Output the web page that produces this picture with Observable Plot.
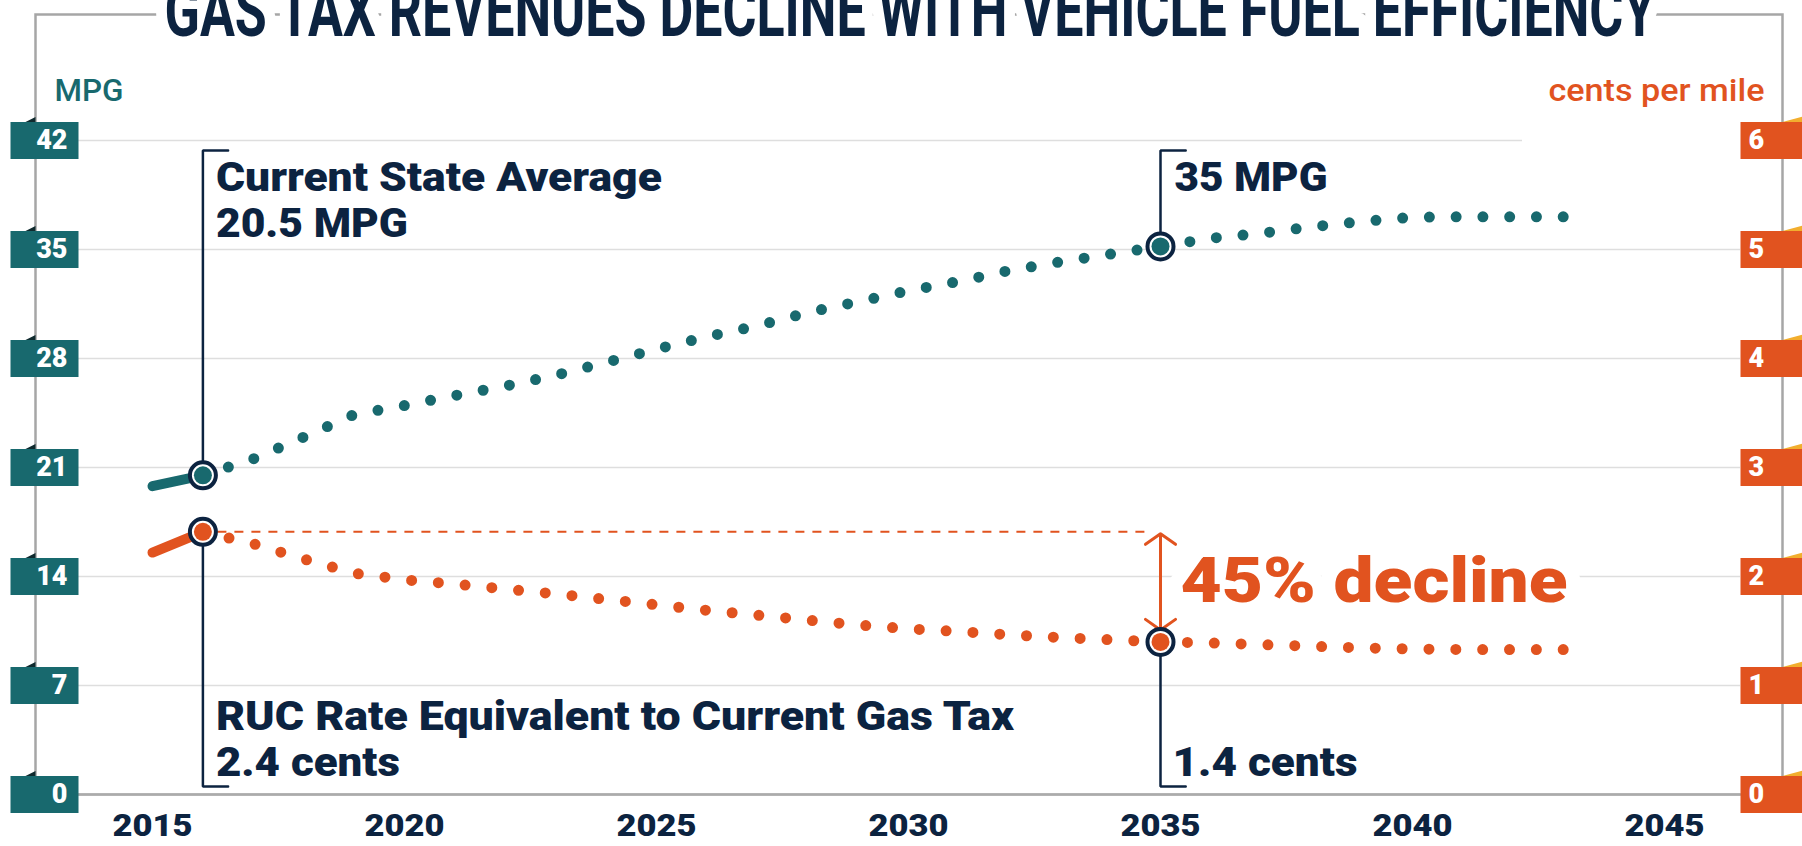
<!DOCTYPE html>
<html>
<head>
<meta charset="utf-8">
<script src="https://cdn.jsdelivr.net/npm/d3@7"></script>
<script src="https://cdn.jsdelivr.net/npm/@observablehq/plot@0.6"></script>
<style>
  html, body { margin: 0; padding: 0; background: #fff; overflow: hidden; }
  #chart svg { display: block; }
</style>
</head>
<body>
<div id="chart"></div>
<script>
// ---------- data ----------
const years = [2015, 2016, 2017, 2018, 2019, 2020, 2021, 2022, 2023, 2024, 2025, 2026, 2027, 2028, 2029,
               2030, 2031, 2032, 2033, 2034, 2035, 2036, 2037, 2038, 2039, 2040, 2041, 2042, 2043];
const mpg = [19.8, 20.5, 21.55, 22.95, 24.4, 24.98, 25.62, 26.23, 26.93, 27.75, 28.6, 29.4, 30.1, 30.95, 31.65,
             32.35, 32.95, 33.65, 34.2, 34.7, 35.2, 35.72, 36.05, 36.45, 36.8, 37.07, 37.1, 37.1, 37.1];
const centsPerMile = [2.22, 2.41, 2.30, 2.16, 2.03, 1.97, 1.93, 1.885, 1.84, 1.79, 1.74, 1.69, 1.645, 1.60, 1.555,
                      1.52, 1.495, 1.465, 1.44, 1.42, 1.40, 1.39, 1.375, 1.36, 1.345, 1.335, 1.33, 1.33, 1.33];
const mpgTicks = [0, 7, 14, 21, 28, 35, 42];
const centsTicks = [0, 1, 2, 3, 4, 5, 6];
const yearTicks = [2015, 2020, 2025, 2030, 2035, 2040, 2045];
const highlightYears = [2016, 2035];
const title = "GAS TAX REVENUES DECLINE WITH VEHICLE FUEL EFFICIENCY";
const leftAxisLabel = "MPG";
const rightAxisLabel = "cents per mile";
const labelTexts = {
  mpgNow: "Current State Average\n20.5 MPG",
  mpgLater: "35 MPG",
  centsNow: "RUC Rate Equivalent to Current Gas Tax\n2.4 cents",
  centsLater: "1.4 cents",
  decline: "45% decline"
};

// ---------- styling ----------
const teal = "#18696e", orange = "#e1531f", navy = "#0c2340";
const gridColor = "#dedede", axisGray = "#a6a6a6";
const font = "Roboto, 'Noto Sans', sans-serif";
const RATIO = 7; // 6 cents per mile sits on 42 MPG

const rows = years.map((year, i) => ({year, mpg: mpg[i], cents: centsPerMile[i], cy: centsPerMile[i] * RATIO}));
const solidPart = rows.filter(d => d.year <= 2016);
const dottedPart = rows.filter(d => d.year >= 2016);
const marked = rows.filter(d => highlightYears.includes(d.year));
const first = marked[0], last = marked[1];

// annotation geometry (data units)
const TOP = 41.36, BOTTOM = 0.51, TICK = 0.5;
const brackets = [
  {id: "a", x: first.year + TICK, y: TOP}, {id: "a", x: first.year, y: TOP}, {id: "a", x: first.year, y: first.mpg},
  {id: "b", x: last.year + TICK, y: TOP}, {id: "b", x: last.year, y: TOP}, {id: "b", x: last.year, y: last.mpg},
  {id: "c", x: first.year, y: first.cy}, {id: "c", x: first.year, y: BOTTOM}, {id: "c", x: first.year + TICK, y: BOTTOM},
  {id: "d", x: last.year, y: last.cy}, {id: "d", x: last.year, y: BOTTOM}, {id: "d", x: last.year + TICK, y: BOTTOM}
];
const midArrow = (first.cy + last.cy) / 2;

const poly = pts => ({draw(ctx) { ctx.moveTo(pts[0][0], pts[0][1]); for (const p of pts.slice(1)) ctx.lineTo(p[0], p[1]); ctx.closePath(); }});
const boxLeft = poly([[-34, -18.5], [34, -18.5], [34, 18.5], [-34, 18.5]]);
const boxRight = poly([[-35, -18.5], [35, -18.5], [35, 18.5], [-35, 18.5]]);
const foldLeft = poly([[-19, -18.5], [-9, -23.5], [-9, -18.5]]);
const foldRight = poly([[7, -18.5], [27, -24], [27, -18.5]]);

const annot = {fill: navy, fontFamily: font, fontWeight: 900, fontSize: 40, lineHeight: 1.15, lineAnchor: "bottom", textAnchor: "start"};
const dotted = {strokeWidth: 11, strokeLinecap: "round", strokeDasharray: "0 27", ariaDescription: "dotted"};

const chart = Plot.plot({
  width: 1802, height: 846,
  marginLeft: 78, marginRight: 62, marginTop: 140, marginBottom: 52,
  x: {domain: [2015, 2045], insetLeft: 74, insetRight: 76, axis: null},
  y: {domain: [0, 42], axis: null},
  style: {fontFamily: font, background: "white", overflow: "hidden"},
  marks: [
    // frame lines (axis spines + connectors to the title)
    Plot.frame({stroke: axisGray, strokeWidth: 2.5, insetLeft: -43, insetRight: -42, insetTop: -126}),
    // title (white halo cuts the connector line)
    Plot.text([title], {frameAnchor: "top-left", dx: 86, dy: -105, lineAnchor: "bottom", textAnchor: "start",
      fontSize: 72, fontWeight: 700, fill: navy, stroke: "white", strokeWidth: 30}),
    // gridlines
    Plot.ruleY(mpgTicks.filter(t => t > 0 && t < 42), {stroke: gridColor, strokeWidth: 1.5}),
    Plot.ruleY([42], {stroke: gridColor, strokeWidth: 1.5, insetRight: 218}),
    Plot.ruleY([0], {stroke: "#ababab", strokeWidth: 2}),
    // axis titles
    Plot.text([leftAxisLabel], {frameAnchor: "top-left", dx: -24, dy: -40, lineAnchor: "bottom", textAnchor: "start",
      fontSize: 32, fontWeight: 500, fill: teal}),
    Plot.text([rightAxisLabel], {frameAnchor: "top-right", dx: 24, dy: -40, lineAnchor: "bottom", textAnchor: "end",
      fontSize: 32, fontWeight: 500, fill: orange}),
    // left tick boxes
    Plot.dot(mpgTicks, {y: d => d, frameAnchor: "left", dx: -34, symbol: foldLeft, fill: "#0f2a2e", stroke: null}),
    Plot.dot(mpgTicks, {y: d => d, frameAnchor: "left", dx: -34, symbol: boxLeft, fill: teal, stroke: null}),
    Plot.text(mpgTicks, {y: d => d, text: d => String(d), frameAnchor: "left", dx: -11, textAnchor: "end",
      fill: "white", fontSize: 27, fontWeight: 900}),
    // right tick boxes
    Plot.dot(centsTicks, {y: d => d * RATIO, frameAnchor: "right", dx: 35, symbol: foldRight, fill: "#f2ae2e", stroke: null}),
    Plot.dot(centsTicks, {y: d => d * RATIO, frameAnchor: "right", dx: 35, symbol: boxRight, fill: orange, stroke: null}),
    Plot.text(centsTicks, {y: d => d * RATIO, text: d => String(d), frameAnchor: "right", dx: 8, textAnchor: "start",
      fill: "white", fontSize: 27, fontWeight: 900}),
    // x tick labels
    Plot.text(yearTicks, {x: d => d, text: d => String(d), frameAnchor: "bottom", dy: 32, lineAnchor: "middle",
      fill: navy, fontSize: 31, fontWeight: 900}),
    // 45% decline label
    Plot.text([labelTexts.decline], {x: () => last.year, y: () => 12.35, dx: 20, lineAnchor: "bottom", textAnchor: "start",
      fill: orange, fontFamily: font, fontWeight: 900, fontSize: 63, stroke: "white", strokeWidth: 26}),
    // dashed reference at today's rate
    Plot.ruleY([first.cy], {x1: first.year, x2: last.year, stroke: orange, strokeWidth: 2,
      strokeDasharray: "9 8", insetLeft: 15, insetRight: 12}),
    // double arrow
    Plot.arrow([0], {x1: () => last.year, x2: () => last.year, y1: () => midArrow, y2: () => first.cy,
      stroke: orange, strokeWidth: 3, headLength: 15, headAngle: 110, insetEnd: 2}),
    Plot.arrow([0], {x1: () => last.year, x2: () => last.year, y1: () => midArrow, y2: () => last.cy,
      stroke: orange, strokeWidth: 3, headLength: 15, headAngle: 110, insetEnd: 12}),
    // brackets
    Plot.line(brackets, {x: "x", y: "y", z: "id", stroke: navy, strokeWidth: 2.5, strokeLinejoin: "miter", curve: "linear"}),
    // series
    Plot.line(solidPart, {x: "year", y: "mpg", stroke: teal, strokeWidth: 10, strokeLinecap: "round"}),
    Plot.line(dottedPart, {x: "year", y: "mpg", stroke: teal, ...dotted}),
    Plot.line(solidPart, {x: "year", y: "cy", stroke: orange, strokeWidth: 10, strokeLinecap: "round"}),
    Plot.line(dottedPart, {x: "year", y: "cy", stroke: orange, ...dotted}),
    // highlighted points
    Plot.dot(marked, {x: "year", y: "mpg", r: 13, fill: "white", stroke: navy, strokeWidth: 4}),
    Plot.dot(marked, {x: "year", y: "mpg", r: 9, fill: teal}),
    Plot.dot(marked, {x: "year", y: "cy", r: 13, fill: "white", stroke: navy, strokeWidth: 4}),
    Plot.dot(marked, {x: "year", y: "cy", r: 9, fill: orange}),
    // annotations
    Plot.text([labelTexts.mpgNow], {...annot, x: () => first.year, y: () => 35.79, dx: 13}),
    Plot.text([labelTexts.mpgLater], {...annot, x: () => last.year, y: () => 38.74, dx: 14}),
    Plot.text([labelTexts.centsNow], {...annot, x: () => first.year, y: () => 1.22, dx: 13}),
    Plot.text([labelTexts.centsLater], {...annot, x: () => last.year, y: () => 1.22, dx: 12})
  ]
});
document.getElementById("chart").appendChild(chart);

// make the dot pattern end exactly on the last data point
chart.querySelectorAll('g[aria-description="dotted"] path').forEach(p => {
  const L = p.getTotalLength();
  const n = Math.max(1, Math.round(L / 27));
  p.setAttribute("stroke-dasharray", `0 ${(L - 0.5) / n}`);
});

// fit text widths to the reference's (narrower) typeface
const fit = new Map([
  [title, 1491], ["Current State Average", 446], ["20.5 MPG", 192],
  ["RUC Rate Equivalent to Current Gas Tax", 798], ["2.4 cents", 184],
  ["35 MPG", 153], ["1.4 cents", 185], ["45% decline", 387],
  [leftAxisLabel, 69], [rightAxisLabel, 216],
  ...yearTicks.map(t => [String(t), 80])
]);
chart.querySelectorAll("text, tspan").forEach(el => {
  if (el.tagName === "text" && el.querySelector("tspan")) return;
  const w = fit.get(el.textContent);
  if (w) { el.setAttribute("textLength", w); el.setAttribute("lengthAdjust", "spacingAndGlyphs"); }
});
</script>
</body>
</html>
